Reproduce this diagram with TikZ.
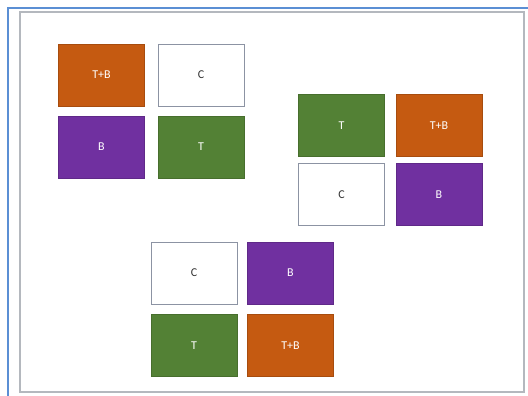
\documentclass[tikz,border=0pt]{standalone}
\usepackage{fontspec}
\setsansfont{Carlito}
\usepackage{xcolor}
\usepackage{tikz}
\usetikzlibrary{positioning}
\definecolor{tileOrange}{HTML}{C55A11}
\definecolor{tilePurple}{HTML}{7030A0}
\definecolor{tileGreen}{HTML}{538135}
\definecolor{tileGrey}{HTML}{8C93A3}
\definecolor{frameBlue}{HTML}{5B8FD4}
\definecolor{frameGrey}{HTML}{B4B8BE}

\begin{document}
\begin{tikzpicture}[x=0.75pt, y=-0.75pt,
  tile/.style={draw, line width=0.6pt, minimum width=64.5pt, minimum height=46.5pt,
    inner sep=0pt, font=\sffamily\fontsize{9}{10}\selectfont},
  tB/.style={tile, fill=tilePurple, draw=tilePurple!85!black, text=white},
  tT/.style={tile, fill=tileGreen, draw=tileGreen!85!black, text=white},
  tTB/.style={tile, fill=tileOrange, draw=tileOrange!85!black, text=white},
  tC/.style={tile, fill=white, draw=tileGrey, text=black!80}]
  % canvas 528 x 396 px, y grows downwards
  \useasboundingbox (0,0) rectangle (528,396);
  \fill[white] (0,0) rectangle (528,396);
  % outer frames: blue edge (open right/bottom), grey inner box
  \draw[frameBlue, line width=1.2pt] (8,396) -- (8,8) -- (528,8);
  \draw[frameGrey, line width=1.4pt] (20,12) rectangle (524,392);
  % group 1 (top left)
  \node[tTB] (tbA) at (101.5,75) {T+B};
  \node[tC]  (cA)  at (201,75)   {C};
  \node[tB]  (bA)  at (101.5,147) {B};
  \node[tT]  (tA)  at (201,147)  {T};
  % group 2 (right)
  \node[tT]  (tB2)  at (341.5,125.5) {T};
  \node[tTB] (tbB)  at (439,125.5)   {T+B};
  \node[tC]  (cB)   at (341.5,194.5) {C};
  \node[tB]  (bB)   at (439,194.5)   {B};
  % group 3 (bottom)
  \node[tC]  (cC)  at (194,273)   {C};
  \node[tB]  (bC)  at (290.5,273) {B};
  \node[tT]  (tC3) at (194,345.5) {T};
  \node[tTB] (tbC) at (290.5,345.5) {T+B};
\end{tikzpicture}
\end{document}
